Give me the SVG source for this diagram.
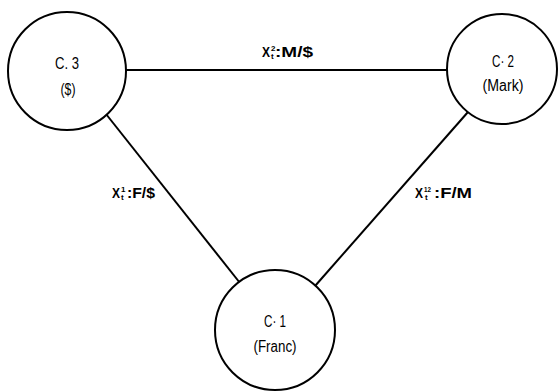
<svg xmlns="http://www.w3.org/2000/svg" width="558" height="392" viewBox="0 0 558 392">
<style>
.node circle{fill:#fff;stroke:#000;stroke-width:2}
.nt{font-family:"Liberation Sans",Arial,sans-serif;font-size:16px;text-anchor:middle;fill:#000}
.edges line{stroke:#000;stroke-width:2}
.lbl{font-family:"Liberation Sans",Arial,sans-serif;font-size:14px;font-weight:bold;fill:#000}
.sm{font-size:8px}
</style>
<rect width="558" height="392" fill="#fff"/>
<g id="connectors" class="edges">
<line x1="126" y1="70" x2="447" y2="70"/>
<line x1="106" y1="114" x2="240" y2="283"/>
<line x1="468" y1="112" x2="315" y2="286"/>
</g>
<g id="labels">
<text class="lbl" x="262" y="57" textLength="8" lengthAdjust="spacingAndGlyphs">X</text>
<text class="lbl sm" x="271" y="51">2</text>
<text class="lbl sm" x="271" y="59">t</text>
<text class="lbl" x="275" y="57" textLength="38" lengthAdjust="spacingAndGlyphs">:M/$</text>
<text class="lbl" x="112" y="198" textLength="8" lengthAdjust="spacingAndGlyphs">X</text>
<text class="lbl sm" x="121" y="192">1</text>
<text class="lbl sm" x="121" y="200">t</text>
<text class="lbl" x="127" y="198" textLength="28" lengthAdjust="spacingAndGlyphs">:F/$</text>
<text class="lbl" x="415" y="198" textLength="8" lengthAdjust="spacingAndGlyphs">X</text>
<text class="lbl sm" x="424" y="192" textLength="7" lengthAdjust="spacingAndGlyphs">12</text>
<text class="lbl sm" x="425" y="200">t</text>
<text class="lbl" x="434" y="198" textLength="38" lengthAdjust="spacingAndGlyphs">:F/M</text>
</g>
<g id="node-c3" class="node">
<circle cx="67" cy="71" r="59"/>
<text class="nt" x="67" y="69" textLength="24" lengthAdjust="spacingAndGlyphs">C. 3</text>
<text class="nt" x="68" y="95" textLength="15" lengthAdjust="spacingAndGlyphs">($)</text>
</g>
<g id="node-c2" class="node">
<circle cx="502" cy="69" r="55"/>
<text class="nt" x="503" y="67" textLength="22" lengthAdjust="spacingAndGlyphs">C· 2</text>
<text class="nt" x="503" y="91" textLength="41" lengthAdjust="spacingAndGlyphs">(Mark)</text>
</g>
<g id="node-c1" class="node">
<circle cx="275" cy="330" r="60"/>
<text class="nt" x="275" y="327" textLength="22" lengthAdjust="spacingAndGlyphs">C· 1</text>
<text class="nt" x="275" y="352" textLength="43" lengthAdjust="spacingAndGlyphs">(Franc)</text>
</g>
</svg>
